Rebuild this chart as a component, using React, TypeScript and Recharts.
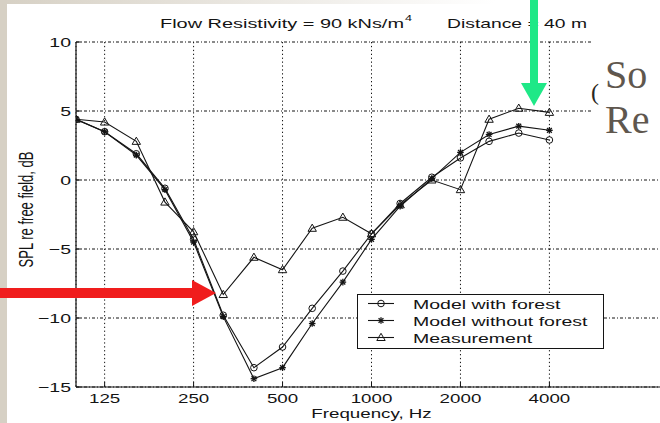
import React from 'react';
import { LineChart, Line, XAxis, YAxis, CartesianGrid, Legend, Label } from 'recharts';

// ---- data ----
const frequencies = [100, 125, 160, 200, 250, 315, 400, 500, 630, 800, 1000, 1250, 1600, 2000, 2500, 3150, 4000];
const modelWithForest = [4.4, 3.5, 1.9, -0.6, -4.3, -9.8, -13.6, -12.1, -9.3, -6.6, -3.9, -1.7, 0.2, 1.6, 2.8, 3.4, 2.9];
const modelWithoutForest = [4.4, 3.5, 1.8, -0.7, -4.5, -9.9, -14.4, -13.6, -10.4, -7.4, -4.3, -1.9, 0.1, 2.0, 3.3, 3.9, 3.6];
const measurement = [4.4, 4.2, 2.8, -1.6, -3.75, -8.3, -5.6, -6.5, -3.5, -2.7, -3.9, -1.8, 0.0, -0.7, 4.4, 5.2, 4.9];
const xTicks = [125, 250, 500, 1000, 2000, 4000];
const yTicks = [-15, -10, -5, 0, 5, 10];
const seriesNames = ['Model with forest', 'Model without forest', 'Measurement'];
const titleLeft = 'Flow Resistivity = 90 kNs/m';
const titleSup = '4';
const titleRight = 'Distance = 40 m';
const xLabel = 'Frequency, Hz';
const yLabel = 'SPL re free field, dB';
const slideLine1 = 'So';
const slideLine2 = 'Re';

const data = frequencies.map((f, i) => ({
  f,
  withForest: modelWithForest[i],
  withoutForest: modelWithoutForest[i],
  measurement: measurement[i],
}));

const INK = '#141414';
const FONT = '"Liberation Sans", Arial, Helvetica, sans-serif';
const SERIF = '"Liberation Serif", "Times New Roman", serif';
const SX = 1.5; // horizontal stretch seen in the reference

const fmt = (v: number) => (v < 0 ? '\u2212' + Math.abs(v) : String(v));

const CircleDot = (p: any) =>
  p.cx == null ? <g key={p.key} /> : (
    <circle key={p.key} cx={p.cx} cy={p.cy} r={3.3} fill="none" stroke={INK} strokeWidth={1} />
  );
const StarDot = (p: any) => {
  if (p.cx == null) return <g key={p.key} />;
  const { cx, cy } = p;
  const s = 3.3;
  const d = 2.4;
  return (
    <g key={p.key} stroke={INK} strokeWidth={1.3}>
      <line x1={cx - s} y1={cy} x2={cx + s} y2={cy} />
      <line x1={cx} y1={cy - s} x2={cx} y2={cy + s} />
      <line x1={cx - d} y1={cy - d} x2={cx + d} y2={cy + d} />
      <line x1={cx - d} y1={cy + d} x2={cx + d} y2={cy - d} />
    </g>
  );
};
const TriDot = (p: any) => {
  if (p.cx == null) return <g key={p.key} />;
  const { cx, cy } = p;
  return (
    <polygon
      key={p.key}
      points={`${cx},${cy - 4.2} ${cx - 4.2},${cy + 3} ${cx + 4.2},${cy + 3}`}
      fill="none"
      stroke={INK}
      strokeWidth={1}
    />
  );
};

const XTick = (p: any) => {
  const { x, y, payload } = p;
  return (
    <g>
      <line x1={x} y1={y} x2={x} y2={y - 5} stroke={INK} strokeWidth={1} />
      <text transform={`translate(${x},${y + 16}) scale(${SX},1)`} textAnchor="middle" fontSize={12.5} fontFamily={FONT} fill={INK}>
        {payload.value}
      </text>
    </g>
  );
};
const TopTick = (p: any) => {
  const { x, y } = p;
  return <line x1={x} y1={y} x2={x} y2={y + 5} stroke={INK} strokeWidth={1} />;
};
const YTick = (p: any) => {
  const { x, y, payload } = p;
  return (
    <g>
      <line x1={x} y1={y} x2={x + 5} y2={y} stroke={INK} strokeWidth={1} />
      <text transform={`translate(${x - 5},${y + 5}) scale(${SX},1)`} textAnchor="end" fontSize={13} fontFamily={FONT} fill={INK}>
        {fmt(payload.value)}
      </text>
    </g>
  );
};

const XLabelContent = (p: any) => {
  const vb = p.viewBox || { x: 0, y: 0, width: 0, height: 0 };
  const cx = vb.x + vb.width / 2;
  return (
    <text transform={`translate(${cx},${vb.y + 31}) scale(${SX},1)`} textAnchor="middle" fontSize={12.5} fontFamily={FONT} fill={INK}>
      {xLabel}
    </text>
  );
};
const YLabelContent = (p: any) => {
  const vb = p.viewBox || { x: 0, y: 0, width: 0, height: 0 };
  const cy = vb.y + vb.height / 2 - 5;
  return (
    <text transform={`translate(${vb.x + 33},${cy}) scale(${SX},1) rotate(-90)`} textAnchor="middle" fontSize={13} fontFamily={FONT} fill={INK}>
      {yLabel}
    </text>
  );
};

const markerFor = [CircleDot, StarDot, TriDot];

const LegendBox = () => (
  <svg width={247} height={55} style={{ display: 'block' }}>
    <rect x={0.5} y={0.5} width={246} height={54} fill="#fff" stroke={INK} strokeWidth={1} />
    {seriesNames.map((name, i) => {
      const cy = 9.5 + i * 17;
      const M = markerFor[i];
      return (
        <g key={name}>
          <line x1={11} y1={cy} x2={37} y2={cy} stroke={INK} strokeWidth={1.1} />
          {M({ cx: 24, cy, key: 'm' + i })}
          <text transform={`translate(56,${cy + 5}) scale(${SX},1)`} fontSize={13} fontFamily={FONT} fill={INK}>
            {name}
          </text>
        </g>
      );
    })}
  </svg>
);

export default function App() {
  return (
    <div style={{ position: 'fixed', left: 0, top: 0, width: 660, height: 423, overflow: 'hidden', background: '#fff' }}>
      <LineChart width={680} height={423} data={data} margin={{ top: 42, right: 13, bottom: 0, left: 0 }}>
        <CartesianGrid horizontal={false} stroke={INK} strokeDasharray="1.3 2.6" strokeWidth={1} />
        <CartesianGrid vertical={false} stroke={INK} strokeDasharray="3 2 1 2" strokeWidth={1} />
        <XAxis
          dataKey="f"
          type="number"
          scale="log"
          domain={[100, 10000]}
          ticks={xTicks}
          allowDataOverflow
          height={36}
          axisLine={{ stroke: INK, strokeWidth: 1.2 }}
          tickLine={false}
          tickSize={0}
          tickMargin={0}
          tick={XTick}
          interval={0}
        >
          <Label content={XLabelContent} />
        </XAxis>
        <XAxis
          xAxisId="top"
          orientation="top"
          dataKey="f"
          type="number"
          scale="log"
          domain={[100, 10000]}
          ticks={xTicks}
          allowDataOverflow
          height={0}
          axisLine={{ stroke: INK, strokeWidth: 1.2 }}
          tickLine={false}
          tickSize={0}
          tickMargin={0}
          tick={TopTick}
          interval={0}
        />
        <YAxis
          type="number"
          domain={[-15, 10]}
          ticks={yTicks}
          width={76}
          axisLine={{ stroke: INK, strokeWidth: 1.2 }}
          tickLine={false}
          tickSize={0}
          tickMargin={0}
          tick={YTick}
          interval={0}
        >
          <Label content={YLabelContent} />
        </YAxis>
        <Line dataKey="withForest" name={seriesNames[0]} stroke={INK} strokeWidth={1.1} dot={CircleDot} activeDot={false} isAnimationActive={false} />
        <Line dataKey="withoutForest" name={seriesNames[1]} stroke={INK} strokeWidth={1.1} dot={StarDot} activeDot={false} isAnimationActive={false} />
        <Line dataKey="measurement" name={seriesNames[2]} stroke={INK} strokeWidth={1.1} dot={TriDot} activeDot={false} isAnimationActive={false} />
        <Legend
          layout="horizontal"
          verticalAlign="middle"
          align="center"
          content={LegendBox}
          wrapperStyle={{ left: 357, top: 294, width: 247, height: 55 }}
        />
      </LineChart>
      <svg width={660} height={423} style={{ position: 'absolute', left: 0, top: 0, pointerEvents: 'none' }}>
        <defs>
          <linearGradient id="topfade" x1="0" x2="1" y1="0" y2="0">
            <stop offset="0" stopColor="#d6d0c4" />
            <stop offset="0.75" stopColor="#ffffff" />
          </linearGradient>
        </defs>
        <rect x={0} y={0} width={660} height={4} fill="url(#topfade)" />
        <rect x={0} y={0} width={7} height={423} fill="#d6d0c4" />
        <text x={160} y={28} fontSize={13} fontFamily={FONT} fill={INK} textLength={244} lengthAdjust="spacingAndGlyphs">
          {titleLeft}
        </text>
        <text x={405} y={21} fontSize={9.5} fontFamily={FONT} fill={INK} textLength={7} lengthAdjust="spacingAndGlyphs">
          {titleSup}
        </text>
        <text x={447} y={28} fontSize={13} fontFamily={FONT} fill={INK} textLength={140} lengthAdjust="spacingAndGlyphs">
          {titleRight}
        </text>
        <rect x={593} y={34} width={67} height={121} fill="#ffffff" />
        <text x={591} y={100} fontSize={24} fontFamily={SERIF} fill="#2a2622">(</text>
        <text x={605} y={88} fontSize={40} fontFamily={SERIF} fill="#5f574e">
          {slideLine1}
        </text>
        <text x={605} y={133} fontSize={40} fontFamily={SERIF} fill="#5f574e">
          {slideLine2}
        </text>
        <rect x={530} y={0} width={8} height={85} fill="#1fe887" />
        <polygon points="521,83 547,83 534,106" fill="#1fe887" />
        <rect x={0} y={288} width={194} height={10} fill="#f01d1d" />
        <polygon points="192,280 192,306 216,293" fill="#f01d1d" />
      </svg>
    </div>
  );
}
